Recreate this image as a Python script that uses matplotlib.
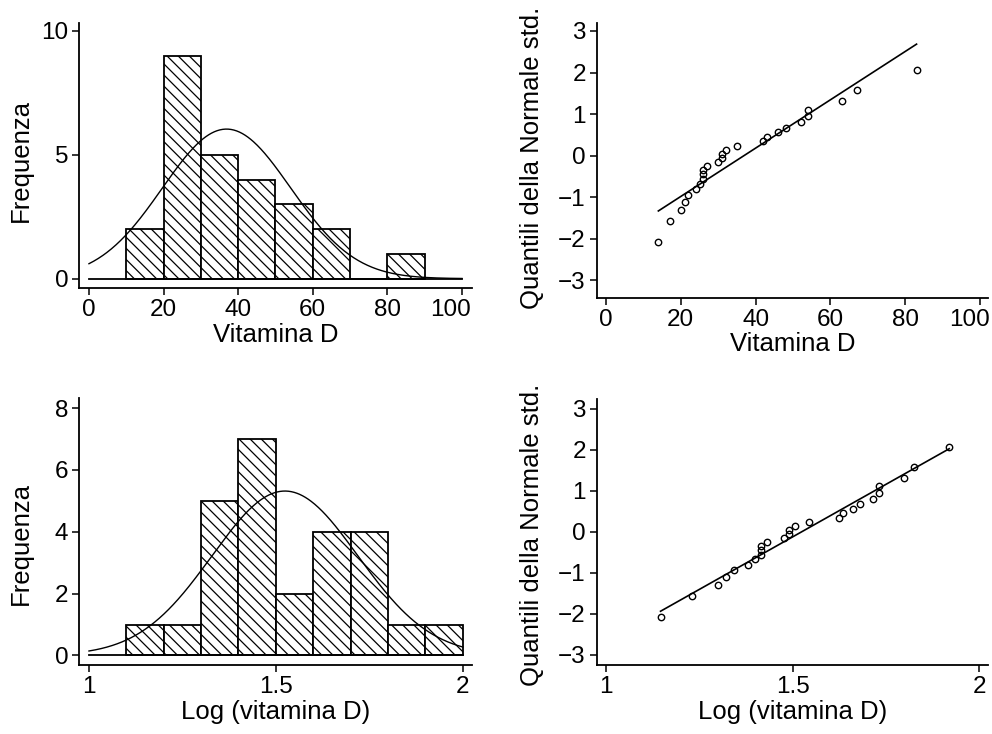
import numpy as np
import matplotlib
matplotlib.use("Agg")
import matplotlib.pyplot as plt
import matplotlib.transforms as mtransforms
from statistics import NormalDist

# ---- data ----
vitd = [14, 17, 20, 21, 22, 24, 25, 26, 26, 26, 27, 30, 31, 31, 32, 35,
        42, 43, 46, 48, 52, 54, 54, 63, 67, 83]
bins_top = [10, 20, 30, 40, 50, 60, 70, 80, 90]
bins_bot = [1.1, 1.2, 1.3, 1.4, 1.5, 1.6, 1.7, 1.8, 1.9, 2.0]

xticks_top = [0, 20, 40, 60, 80, 100]
xticks_bot = [1, 1.5, 2]
xticklabels_bot = ["1", "1.5", "2"]
yticks_hist_top = [0, 5, 10]
yticks_hist_bot = [0, 2, 4, 6, 8]
yticks_qq = [-3, -2, -1, 0, 1, 2, 3]

xlabel_top = "Vitamina D"
xlabel_bot = "Log (vitamina D)"
ylabel_hist = "Frequenza"
ylabel_qq = "Quantili della Normale std."

plt.rcParams['font.family'] = ['Liberation Sans', 'DejaVu Sans']
plt.rcParams['hatch.linewidth'] = 0.9

vitd = np.array(vitd, dtype=float)
logd = np.log10(vitd)
n = len(vitd)
nd = NormalDist()
qq_y = [nd.inv_cdf((i - 0.5) / n) for i in range(1, n + 1)]

fig = plt.figure(figsize=(9.92, 7.34), dpi=100)
ax1 = fig.add_axes([0.0799, 0.6072, 0.3956, 0.3619])
ax2 = fig.add_axes([0.6018, 0.5944, 0.3942, 0.3747])
ax3 = fig.add_axes([0.0799, 0.0940, 0.3956, 0.3634])
ax4 = fig.add_axes([0.6018, 0.0940, 0.3942, 0.3620])

TICK_FS = 17.5
LAB_FS = 18.5


def style(ax):
    for s in ['top', 'right']:
        ax.spines[s].set_visible(False)
    for s in ['left', 'bottom']:
        ax.spines[s].set_linewidth(1.3)
    ax.tick_params(direction='out', length=5, width=1.1, labelsize=TICK_FS, pad=3)


def shift_last_xlabel(ax, dx_px):
    fig.canvas.draw()
    lab = ax.get_xticklabels()[-1]
    off = mtransforms.ScaledTranslation(dx_px / 100.0, 0, fig.dpi_scale_trans)
    lab.set_transform(lab.get_transform() + off)


def hist_panel(ax, data, bins, xmin, xmax):
    counts, edges = np.histogram(data, bins=bins)
    widths = np.diff(edges)
    ax.bar(edges[:-1], counts, width=widths, align='edge', facecolor='white',
           edgecolor='black', linewidth=1.3, hatch='\\\\\\', zorder=2)
    m = data.mean()
    s = data.std(ddof=1)
    bw = widths[0]
    xs = np.linspace(xmin, xmax, 400)
    ys = n * bw * np.exp(-0.5 * ((xs - m) / s) ** 2) / (s * np.sqrt(2 * np.pi))
    ax.plot(xs, ys, color='black', lw=1.0, zorder=3)
    ax.plot([xmin, xmax], [0, 0], color='black', lw=1.3, zorder=3)


def qq_panel(ax, data):
    d = np.sort(data)
    ax.plot(d, qq_y, linestyle='none', marker='o', markersize=4.6,
            markerfacecolor='none', markeredgecolor='black', markeredgewidth=1.0)
    m = data.mean()
    s = data.std(ddof=1)
    lx = np.array([d.min(), d.max()])
    ax.plot(lx, (lx - m) / s, color='black', lw=1.2)


# top-left
hist_panel(ax1, vitd, bins_top, 0, 100)
ax1.set_xlim(-2.6, 102.6)
ax1.set_ylim(-0.39, 10.33)
ax1.set_xticks(xticks_top)
ax1.set_yticks(yticks_hist_top)
ax1.set_xlabel(xlabel_top, fontsize=LAB_FS, labelpad=1)
ax1.set_ylabel(ylabel_hist, fontsize=LAB_FS)
ax1.yaxis.set_label_coords(-0.118, 0.483)
style(ax1)

# top-right
qq_panel(ax2, vitd)
ax2.set_xlim(-2.4, 102.1)
ax2.set_ylim(-3.42, 3.2)
ax2.set_xticks(xticks_top)
ax2.set_yticks(yticks_qq)
ax2.set_xlabel(xlabel_top, fontsize=LAB_FS, labelpad=1)
ax2.set_ylabel(ylabel_qq, fontsize=LAB_FS)
ax2.yaxis.set_label_coords(-0.136, 0.51)
style(ax2)

# bottom-left
hist_panel(ax3, logd, bins_bot, 1.0, 2.0)
ax3.set_xlim(0.974, 2.024)
ax3.set_ylim(-0.31, 8.32)
ax3.set_xticks(xticks_bot)
ax3.set_xticklabels(xticklabels_bot)
ax3.set_yticks(yticks_hist_bot)
ax3.set_xlabel(xlabel_bot, fontsize=LAB_FS, labelpad=1)
ax3.set_ylabel(ylabel_hist, fontsize=LAB_FS)
ax3.yaxis.set_label_coords(-0.118, 0.457)
style(ax3)

# bottom-right
qq_panel(ax4, logd)
ax4.set_xlim(0.976, 2.023)
ax4.set_ylim(-3.25, 3.23)
ax4.set_xticks(xticks_bot)
ax4.set_xticklabels(xticklabels_bot)
ax4.set_yticks(yticks_qq)
ax4.set_xlabel(xlabel_bot, fontsize=LAB_FS, labelpad=1)
ax4.set_ylabel(ylabel_qq, fontsize=LAB_FS)
ax4.yaxis.set_label_coords(-0.136, 0.49)
style(ax4)

shift_last_xlabel(ax1, -11)
shift_last_xlabel(ax2, -11)

fig.savefig("out.png", dpi=100)
